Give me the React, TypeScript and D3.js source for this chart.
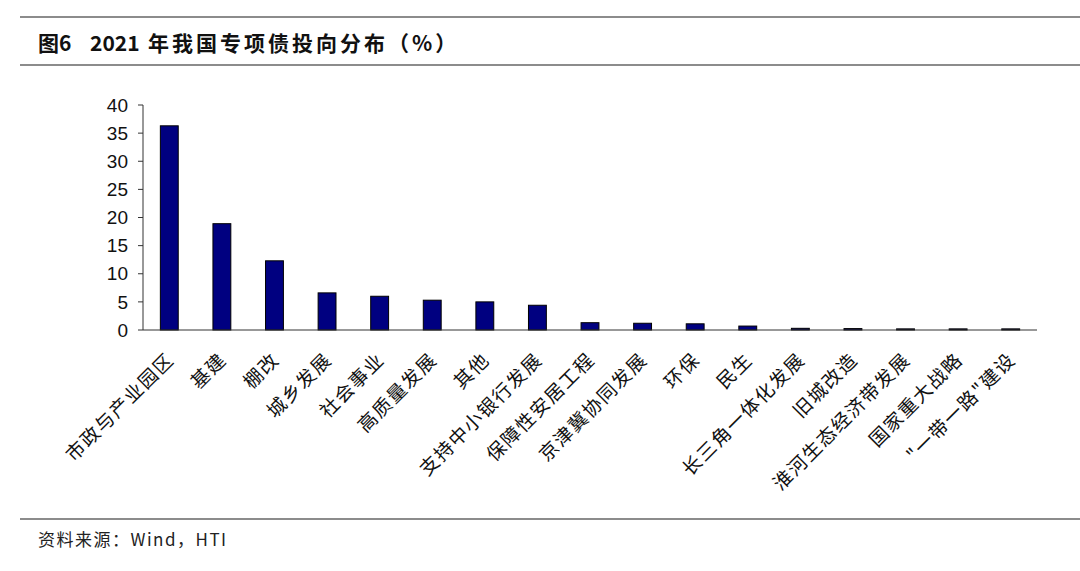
import React from "react";
import * as d3 from "d3";

const categories = [
  "市政与产业园区", "基建", "棚改", "城乡发展", "社会事业", "高质量发展", "其他",
  "支持中小银行发展", "保障性安居工程", "京津冀协同发展", "环保", "民生",
  "长三角一体化发展", "旧城改造", "淮河生态经济带发展", "国家重大战略", "\"一带一路\"建设",
];
const values = [36.3, 18.9, 12.3, 6.6, 6.0, 5.3, 5.0, 4.4, 1.3, 1.2, 1.1, 0.7, 0.3, 0.25, 0.2, 0.2, 0.2];
const yTicks = [0, 5, 10, 15, 20, 25, 30, 35, 40];
const titleNo = "图6";
const titleYear = "2021";
const title = "年我国专项债投向分布（%）";
const source = "资料来源：Wind，HTI";

export default function App() {
  const W = 1080, H = 571;
  const left = 143, right = 1037, top = 105, bottom = 330;
  const x = d3.scaleBand<string>().domain(categories).range([left, right]).paddingInner(0.66).paddingOuter(0.33);
  const y = d3.scaleLinear().domain([0, 40]).range([bottom, top]);
  const cjk = "'Noto Sans CJK SC', sans-serif";
  return (
    <svg width={W} height={H} style={{ position: "absolute", left: 0, top: 0, background: "#fff" }}>
      <rect x={0} y={0} width={W} height={H} fill="#fff" />
      <line x1={20} x2={W} y1={17} y2={17} stroke="#666" strokeWidth={1.5} />
      <text x={38} y={51} fontFamily={cjk} fontWeight="bold" fontSize={21} fill="#111">{titleNo}</text>
      <text x={90} y={51} fontFamily={cjk} fontWeight="bold" fontSize={21} fill="#111">{titleYear}</text>
      <text x={148} y={51} fontFamily={cjk} fontWeight="bold" fontSize={21} letterSpacing={3} fill="#111">{title}</text>
      <line x1={20} x2={W} y1={65} y2={65} stroke="#666" strokeWidth={1.5} />
      {/* y axis */}
      <line x1={left} x2={left} y1={top} y2={bottom} stroke="#333" strokeWidth={1} />
      {yTicks.map((t) => (
        <g key={t}>
          <line x1={left - 5} x2={left} y1={y(t)} y2={y(t)} stroke="#333" />
          <text x={128} y={y(t)} dy="0.35em" textAnchor="end" fontFamily="'Liberation Sans', Arial, sans-serif" fontSize={19} fill="#111">{t}</text>
        </g>
      ))}
      {categories.map((c, i) => (
        <rect key={c} x={x(c)!} y={y(values[i])} width={x.bandwidth()} height={bottom - y(values[i])} fill="#000080" stroke="#000" strokeWidth={1} />
      ))}
      <line x1={left} x2={right} y1={bottom} y2={bottom} stroke="#333" strokeWidth={1} />
      {categories.map((c) => {
        const cx = x(c)! + x.bandwidth() / 2 + 6;
        const cy = bottom + 31;
        return (
          <text key={c} x={cx} y={cy} transform={`rotate(-45 ${cx} ${cy})`} textAnchor="end" fontFamily={cjk} fontSize={19} letterSpacing={1.5} fill="#111">{c}</text>
        );
      })}
      <line x1={20} x2={W} y1={519} y2={519} stroke="#666" strokeWidth={1.5} />
      <text x={38} y={546} fontFamily={cjk} fontSize={17} letterSpacing={1.5} fill="#222">{source}</text>
    </svg>
  );
}
